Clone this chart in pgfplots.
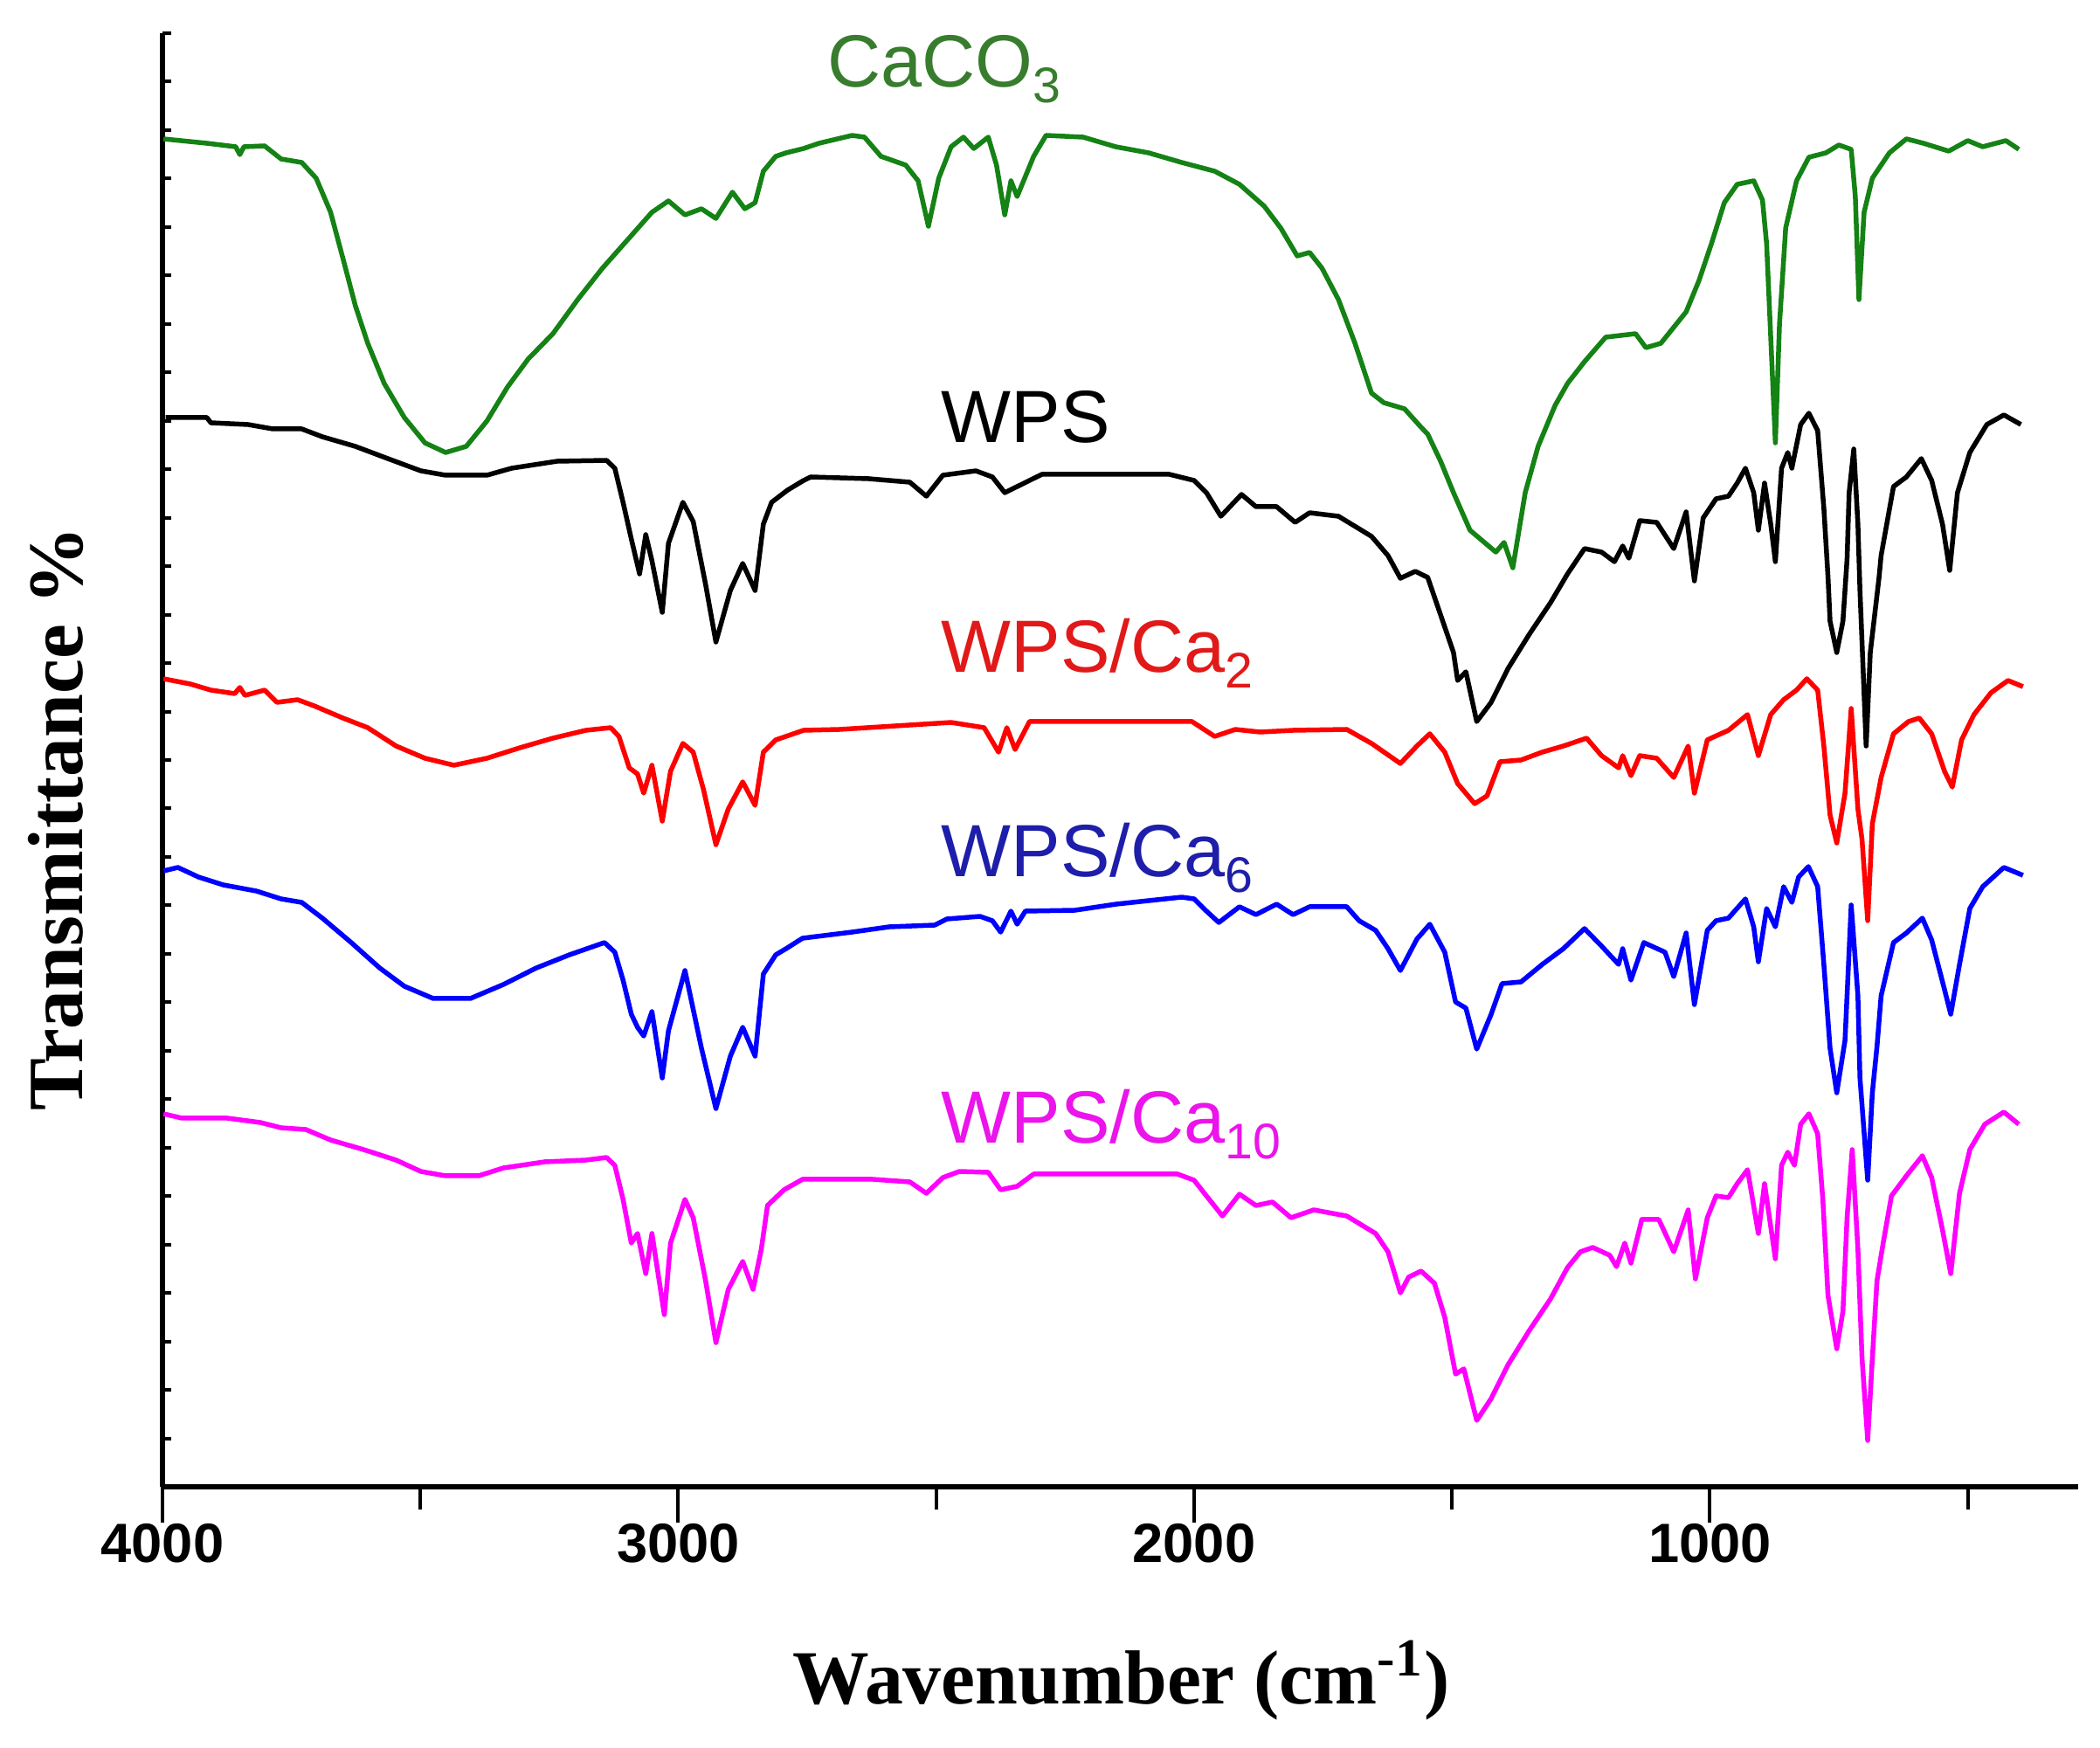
\documentclass[border=0pt]{standalone}
\usepackage{fontspec}
\usepackage{pgfplots}
\pgfplotsset{compat=1.18}
\newfontfamily\arialf{Liberation Sans}
\newfontfamily\timesf{Liberation Serif}
\definecolor{cgreen}{RGB}{20,130,20}
\definecolor{cred}{RGB}{255,0,0}
\definecolor{cblue}{RGB}{0,0,255}
\definecolor{cmag}{RGB}{255,0,255}
\definecolor{lgreen}{RGB}{55,125,45}
\definecolor{lblue}{RGB}{30,30,170}
\definecolor{lred}{RGB}{225,25,25}
\definecolor{lmag}{RGB}{235,20,235}
\begin{document}
\begin{tikzpicture}
\useasboundingbox (-37.2bp,-59.8bp) rectangle (443.6bp,340.4bp);
% y axis line and its inward ticks
\begin{axis}[at={(0,0)}, anchor=south west, scale only axis,
  width=438.6bp, height=332.8bp,
  xmin=0, xmax=1, ymin=0, ymax=166.4,
  axis x line=none, axis y line*=left,
  axis line style={line width=1.2bp, black},
  ytick={0,5.5467,...,166.4}, yticklabels={},
  ytick align=inside, major tick length=2bp,
  tick style={line width=0.8bp, black}]
\end{axis}
\begin{axis}[at={(0,0)}, anchor=south west, scale only axis,
  width=438.6bp, height=332.8bp,
  x dir=reverse, xmin=286, xmax=4000, ymin=0, ymax=166.4,
  axis x line*=bottom, axis y line=none,
  axis line style={line width=1.3bp, black},
  xtick={1000,2000,3000,4000}, xticklabels={1000,2000,3000,4000},
  minor xtick={500,1500,2500,3500},
  xtick align=outside, major tick length=8.2bp, minor tick length=5.2bp,
  tick style={line width=0.8bp, black},
  xticklabel style={font=\arialf\bfseries\fontsize{12.7}{14}\selectfont, inner sep=0pt, anchor=north},
  every axis plot/.append style={no markers, line width=1.1bp, line join=round}]
\addplot[cgreen] coordinates {
(3998,154.3) (3914,153.8) (3858,153.4) (3850,152.5) (3842,153.4) (3802,153.5)
(3770,152.0) (3730,151.6) (3702,149.8) (3674,145.9) (3650,140.6) (3626,135.2)
(3602,130.9) (3570,126.3) (3531,122.4) (3491,119.5) (3451,118.4) (3411,119.1)
(3371,122.0) (3331,125.9) (3291,129.1) (3243,132.0) (3195,135.9) (3147,139.5)
(3099,142.7) (3051,145.9) (3019,147.2) (2987,145.6) (2955,146.3) (2927,145.2)
(2895,148.2) (2871,146.3) (2851,147.0) (2835,150.6) (2811,152.3) (2791,152.7)
(2757,153.2) (2727,153.8) (2663,154.7) (2639,154.5) (2607,152.3) (2559,151.3)
(2535,149.5) (2515,144.3) (2495,149.8) (2471,153.4) (2447,154.5) (2427,153.2)
(2399,154.5) (2383,151.3) (2367,145.6) (2355,149.5) (2343,147.7) (2311,152.3)
(2287,154.7) (2215,154.5) (2152,153.4) (2088,152.7) (2024,151.6) (1960,150.6)
(1912,149.1) (1864,146.6) (1832,144.1) (1800,140.9) (1776,141.3) (1752,139.5)
(1720,135.9) (1688,130.9) (1656,125.2) (1632,124.1) (1592,123.4) (1560,121.3)
(1547,120.5) (1522,117.4) (1497,113.8) (1465,109.5) (1415,107.0) (1399,108.1)
(1382,105.2) (1358,113.8) (1333,119.1) (1300,123.8) (1276,126.3) (1243,128.8)
(1202,131.6) (1144,132.0) (1124,130.4) (1095,130.9) (1046,134.5) (1021,138.1)
(997,142.3) (972,147.0) (947,149.1) (915,149.5) (898,147.3) (890,142.3)
(882,131.6) (873,119.5) (865,133.1) (853,144.1) (832,149.5) (808,152.2)
(775,152.7) (750,153.6) (726,153.1) (718,147.7) (711,135.9) (701,145.9)
(685,149.8) (652,152.7) (619,154.3) (586,153.8) (537,152.9) (500,154.1)
(471,153.4) (426,154.1) (401,153.1)};
\addplot[black] coordinates {
(3994,122.4) (3914,122.4) (3906,121.8) (3834,121.6) (3786,121.1) (3730,121.1)
(3690,120.2) (3626,119.1) (3563,117.7) (3499,116.3) (3451,115.8) (3371,115.8)
(3323,116.6) (3235,117.4) (3139,117.5) (3123,116.6) (3107,112.7) (3091,108.5)
(3075,104.5) (3063,109.0) (3051,106.0) (3031,100.1) (3019,108.0) (2991,112.7)
(2971,110.5) (2947,103.3) (2927,96.7) (2899,102.6) (2875,105.7) (2851,102.6)
(2835,110.2) (2819,112.7) (2788,114.1) (2757,115.2) (2743,115.6) (2631,115.4)
(2551,115.0) (2519,113.4) (2487,115.8) (2423,116.3) (2391,115.6) (2367,113.8)
(2343,114.5) (2295,115.9) (2048,115.9) (2000,115.2) (1976,113.8) (1948,111.1)
(1908,113.6) (1880,112.2) (1840,112.2) (1804,110.4) (1776,111.5) (1720,111.1)
(1656,108.8) (1624,106.6) (1600,104.0) (1571,104.8) (1547,104.1) (1522,99.8)
(1497,95.5) (1489,92.3) (1473,93.3) (1452,87.6) (1424,89.8) (1391,93.7)
(1350,97.6) (1309,101.2) (1276,104.5) (1243,107.4) (1210,107.0) (1185,105.9)
(1169,107.7) (1157,106.3) (1136,110.6) (1103,110.4) (1070,107.4) (1046,111.6)
(1030,103.7) (1013,110.9) (988,113.1) (964,113.4) (947,114.9) (931,116.6)
(915,113.8) (906,109.5) (894,114.9) (882,110.2) (873,105.9) (861,116.6)
(849,118.4) (841,116.6) (824,121.6) (808,122.9) (791,120.9) (779,112.0)
(771,104.2) (767,99.1) (754,95.5) (742,99.1) (734,106.2) (730,113.8)
(721,118.8) (713,110.2) (709,102.6) (697,84.8) (689,95.5) (672,104.1)
(668,106.6) (644,114.5) (619,115.6) (590,117.7) (570,115.2) (549,110.2)
(535,104.9) (520,113.8) (496,118.4) (463,121.6) (430,122.7) (397,121.6)};
\addplot[cred] coordinates {
(3998,92.5) (3946,91.9) (3906,91.2) (3860,90.8) (3850,91.5) (3840,90.6)
(3802,91.2) (3778,89.8) (3738,90.1) (3706,89.4) (3650,88.0) (3602,86.9)
(3547,84.8) (3491,83.4) (3435,82.6) (3371,83.4) (3307,84.6) (3243,85.7)
(3179,86.6) (3131,86.9) (3115,85.9) (3095,82.3) (3079,81.6) (3067,79.4)
(3051,82.6) (3031,76.2) (3015,81.9) (2991,85.1) (2971,84.1) (2951,79.8)
(2927,73.5) (2903,77.6) (2875,80.7) (2851,78.0) (2835,84.1) (2811,85.5)
(2757,86.6) (2687,86.7) (2471,87.5) (2407,86.9) (2379,84.1) (2363,86.9)
(2347,84.4) (2319,87.6) (2112,87.6) (2004,87.6) (1960,85.9) (1920,86.7)
(1872,86.4) (1808,86.6) (1704,86.7) (1656,85.1) (1600,82.8) (1568,84.8)
(1543,86.2) (1514,84.1) (1489,80.5) (1456,78.2) (1432,79.1) (1407,83.0)
(1366,83.2) (1325,84.1) (1284,84.8) (1239,85.7) (1210,83.7) (1177,82.3)
(1169,83.7) (1153,81.4) (1136,83.7) (1103,83.4) (1070,81.2) (1042,84.8)
(1030,79.4) (1005,85.5) (964,86.6) (927,88.4) (906,83.7) (882,88.4)
(857,90.1) (832,91.2) (812,92.5) (791,91.2) (779,84.8) (767,76.9)
(754,73.7) (738,79.4) (726,89.1) (713,77.6) (705,74.1) (694,64.8)
(685,75.9) (668,81.2) (644,86.2) (615,87.6) (594,88.0) (570,86.2)
(545,81.9) (530,80.1) (512,85.5) (488,88.4) (455,90.9) (422,92.3) (393,91.6)};
\addplot[cblue] coordinates {
(3998,70.5) (3970,70.9) (3930,69.8) (3882,68.9) (3818,68.2) (3770,67.3)
(3730,66.9) (3690,65.1) (3634,62.3) (3579,59.4) (3531,57.3) (3475,55.9)
(3403,55.9) (3339,57.5) (3275,59.4) (3211,60.9) (3143,62.3) (3123,61.2)
(3107,58.0) (3091,54.1) (3079,52.6) (3067,51.6) (3051,54.4) (3031,46.8)
(3019,52.2) (2987,59.1) (2955,50.2) (2927,43.3) (2899,49.3) (2875,52.6)
(2851,49.3) (2835,58.7) (2811,60.9) (2791,61.6) (2759,62.8) (2663,63.5)
(2591,64.1) (2503,64.3) (2479,65.0) (2415,65.3) (2391,64.8) (2375,63.5)
(2355,65.9) (2343,64.4) (2327,65.9) (2231,66.0) (2151,66.7) (2088,67.1)
(2024,67.5) (2000,67.3) (1976,65.9) (1952,64.6) (1912,66.4) (1880,65.5)
(1840,66.7) (1808,65.5) (1776,66.4) (1704,66.4) (1680,64.8) (1648,63.7)
(1624,61.6) (1600,59.1) (1568,62.7) (1543,64.4) (1514,61.2) (1493,55.5)
(1473,54.8) (1452,50.1) (1424,54.1) (1403,57.6) (1366,57.8) (1325,59.8)
(1284,61.6) (1243,63.9) (1210,61.9) (1177,59.8) (1169,61.6) (1153,58.0)
(1128,62.3) (1087,61.2) (1070,58.4) (1046,63.4) (1030,55.2) (1005,63.7)
(988,64.8) (964,65.1) (931,67.3) (915,64.1) (906,60.1) (890,66.2)
(873,64.1) (857,68.7) (841,66.9) (828,69.8) (809,71.0) (791,68.7)
(779,59.8) (767,50.2) (754,45.1) (738,51.1) (726,66.6) (713,56.2)
(709,46.8) (694,35.1) (685,45.1) (676,50.4) (668,56.2) (644,62.3)
(619,63.4) (588,65.1) (570,62.6) (545,56.9) (533,54.1) (516,59.8)
(496,66.2) (471,68.7) (430,70.9) (393,70.0)};
\addplot[cmag] coordinates {
(3998,42.7) (3962,42.2) (3874,42.2) (3810,41.7) (3770,41.1) (3722,40.9)
(3674,39.7) (3610,38.6) (3547,37.4) (3499,36.1) (3451,35.6) (3387,35.6)
(3339,36.5) (3259,37.2) (3179,37.4) (3139,37.7) (3123,36.8) (3107,32.9)
(3091,27.9) (3079,29.0) (3063,24.4) (3051,29.0) (3027,19.7) (3015,27.9)
(2987,32.9) (2971,30.8) (2947,23.6) (2927,16.5) (2903,22.6) (2875,25.8)
(2855,22.6) (2839,27.2) (2827,32.2) (2795,34.0) (2759,35.2) (2623,35.2)
(2551,34.9) (2519,33.6) (2487,35.4) (2455,36.1) (2399,36.0) (2375,34.0)
(2343,34.4) (2311,35.8) (2032,35.8) (2000,35.1) (1976,33.3) (1945,31.0)
(1912,33.5) (1880,32.2) (1848,32.6) (1812,30.8) (1768,31.7) (1704,31.0)
(1648,29.0) (1624,26.9) (1600,22.2) (1584,24.0) (1560,24.7) (1534,23.3)
(1514,19.4) (1493,12.9) (1477,13.5) (1452,7.6) (1424,10.1) (1391,14.0)
(1350,17.9) (1309,21.5) (1276,25.1) (1251,26.9) (1227,27.4) (1194,26.5)
(1181,25.2) (1165,27.9) (1153,25.6) (1132,30.6) (1099,30.6) (1070,26.9)
(1042,31.7) (1028,23.8) (1005,30.8) (988,33.3) (964,33.1) (947,34.7)
(927,36.3) (906,29.0) (894,34.7) (873,26.1) (861,36.8) (849,38.3)
(836,36.8) (824,41.5) (808,42.7) (791,40.4) (781,32.9) (771,21.9)
(754,15.8) (742,20.1) (734,30.8) (724,38.6) (713,27.2) (705,14.7)
(694,5.3) (685,14.7) (676,23.6) (664,27.9) (648,33.3) (619,35.6)
(588,37.9) (570,35.4) (549,29.4) (533,24.4) (516,33.6) (496,38.6)
(467,41.5) (430,42.9) (401,41.5)};
\begin{scope}[every node/.style={anchor=base west, inner sep=0pt, font=\arialf\fontsize{17}{17}\selectfont}]
\node[text=lgreen] at (axis cs:2712,160.2) {CaCO\raisebox{-3.6bp}{\fontsize{11.5}{12}\selectfont 3}};
\node[text=black] at (axis cs:2491,119.5) {WPS};
\node[text=lred] at (axis cs:2491,93.2) {WPS/Ca\raisebox{-3.6bp}{\fontsize{11.5}{12}\selectfont 2}};
\node[text=lblue] at (axis cs:2491,69.8) {WPS/Ca\raisebox{-3.6bp}{\fontsize{11.5}{12}\selectfont 6}};
\node[text=lmag] at (axis cs:2491,39.3) {WPS/Ca\raisebox{-3.6bp}{\fontsize{11.5}{12}\selectfont 10}};
\end{scope}
\end{axis}
\node[anchor=base, font=\timesf\bfseries\fontsize{17.6}{20}\selectfont] at (219.5bp,-49.6bp) {Wavenumber (cm\textsuperscript{-1})};
\node[rotate=90, font=\timesf\bfseries\fontsize{18}{20}\selectfont] at (-24.4bp,153bp) {Transmittance \%};
\end{tikzpicture}
\end{document}
